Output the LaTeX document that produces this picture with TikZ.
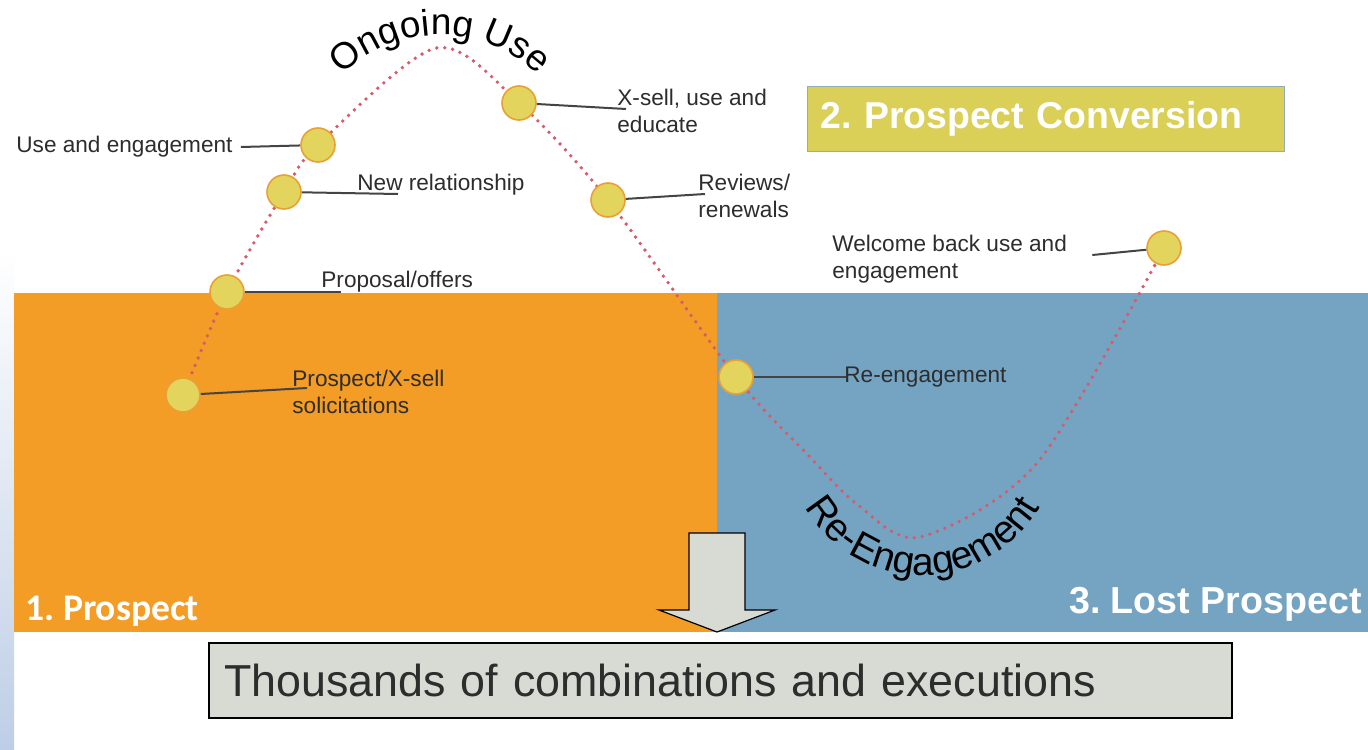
\documentclass[tikz,border=0pt]{standalone}
\usepackage{fontspec}
\setmainfont{Liberation Sans}
\newfontfamily\calibrifont{Carlito}
\usepackage{tikz}
\usetikzlibrary{positioning, decorations.text, calc}
\definecolor{prospectcolor}{RGB}{243,156,38}
\definecolor{lostcolor}{RGB}{117,164,195}
\definecolor{conversioncolor}{RGB}{218,208,88}
\definecolor{dotfill}{RGB}{226,212,92}
\definecolor{dotborder}{RGB}{234,160,52}
\definecolor{trailcolor}{RGB}{214,92,108}
\definecolor{leadercolor}{RGB}{68,68,68}
\definecolor{textgrey}{RGB}{45,45,45}
\definecolor{boxgrey}{RGB}{216,219,211}
\definecolor{stripblue}{RGB}{190,206,230}
\frenchspacing

\begin{document}
\begin{tikzpicture}[
    x=0.5pt, y=-0.5pt,
    region/.style={draw=none, inner sep=0pt, outer sep=0pt, minimum height=169.5pt, anchor=north west},
    phase/.style={text=white, inner sep=0pt},
    convbox/.style={draw={rgb,255:red,150;green,172;blue,180}, fill=conversioncolor, text=white, minimum width=238.5pt, minimum height=32.5pt, text width=225.5pt, inner xsep=6.5pt, align=left, font=\fontsize{18.7}{21}\selectfont\bfseries},
    resultbox/.style={draw=black, line width=1.2pt, fill=boxgrey, text=textgrey, minimum width=511.5pt, minimum height=37.5pt, text width=496.5pt, inner xsep=7.5pt, align=left, font=\fontsize{22.4}{25}\selectfont},
    stop/.style={circle, draw=dotborder, fill=dotfill, line width=0.8pt, minimum size=17pt, inner sep=0pt},
    stagetext/.style={text=textgrey, inner sep=0pt, align=left, font=\fontsize{11.3}{13.5}\selectfont},
    leader/.style={draw=leadercolor, line width=1pt},
    trail/.style={draw=trailcolor, line width=1.9pt, line cap=round, dash pattern=on 0pt off 4pt},
    downarrow/.style={draw=black, line width=0.6pt, fill=boxgrey}
]
    \useasboundingbox (0,0) rectangle (1368,749);
    \fill[white] (0,0) rectangle (1368,749);
    \shade[top color=white, bottom color=stripblue] (0,250) rectangle (14,749);

    % Stops along the journey
    \coordinate (d1) at (183,395);
    \coordinate (d2) at (227,292);
    \coordinate (d3) at (284,192);
    \coordinate (d4) at (318,145);
    \coordinate (peak) at (436,48);
    \coordinate (d5) at (519,103);
    \coordinate (d6) at (608,200);
    \coordinate (d7) at (736,377);
    \coordinate (dip) at (920,537);
    \coordinate (d8) at (1164,248);

    % Regions
    \node[region, fill=prospectcolor, minimum width=351.5pt] (prospect) at (14,293) {};
    \node[region, fill=lostcolor, minimum width=325.5pt, right=0pt of prospect] (lost) {};
    \node[phase, anchor=base west, font=\calibrifont\fontsize{18.8}{20}\selectfont\bfseries] at ([shift={(11,-12)}]prospect.south west) {1. Prospect};
    \node[phase, anchor=base east, font=\fontsize{18.8}{21}\selectfont\bfseries] at ([shift={(-6,-19)}]lost.south east) {3. Lost Prospect};
    \node[convbox, anchor=north west] (conv) at (807,86) {2. Prospect Conversion};

    % Dotted path
    \draw[trail] plot[smooth, tension=0.5] coordinates {(d1) (d2) (d3) (d4) (peak) (d5) (d6) (d7) (808,455) (858,505) (dip) (1037,463) (d8)};

    % Curved titles
    \path[decorate, decoration={text along path, text align=center, text={|\fontsize{18.5}{18.5}\selectfont|Ongoing Use}}]
        (318.8,105) arc[start angle=150, end angle=30, radius=70pt];
    \path[decorate, decoration={text along path, text align=center, text={|\fontsize{19.5}{19.5}\selectfont|Re-Engagement}}]
        (788,451.8) arc[start angle=185, end angle=355, radius=67.5pt];

    % Result
    \draw[downarrow] (689,533) -- (745,533) -- (745,610) -- (775,610) -- (717,632) -- (659,610) -- (689,610) -- cycle;
    \node[resultbox, anchor=north west] (result) at (208,642) {Thousands of combinations and executions};

    % Stop markers
    \node[stop] (s1) at (d1) {};
    \node[stop] (s2) at (d2) {};
    \node[stop] (s3) at (d3) {};
    \node[stop] (s4) at (d4) {};
    \node[stop] (s5) at (d5) {};
    \node[stop] (s6) at (d6) {};
    \node[stop] (s7) at (d7) {};
    \node[stop] (s8) at (d8) {};

    % Stage labels
    \node[stagetext, anchor=north west] (l1) at (292,370) {Prospect/X-sell\\solicitations};
    \node[stagetext, anchor=north west] (l2) at (321,271) {Proposal/offers};
    \node[stagetext, anchor=north west] (l3) at (357,174) {New relationship};
    \node[stagetext, anchor=west] (l4) at (16,147) {Use and engagement};
    \node[stagetext, anchor=north west] (l5) at (617,89) {X-sell, use and\\educate};
    \node[stagetext, anchor=north west] (l6) at (698,174) {Reviews/\\renewals};
    \node[stagetext, anchor=north west] (l7) at (844,367) {Re-engagement};
    \node[stagetext, anchor=north west] (l8) at (832,235) {Welcome back use and\\engagement};

    % Leaders
    \draw[leader] (s1) -- ([shift={(15,18)}]l1.north west);
    \draw[leader] (s2) -- ([shift={(20,21)}]l2.north west);
    \draw[leader] (s3) -- ([shift={(41,20)}]l3.north west);
    \draw[leader] (s4) -- ([xshift=4pt]l4.east);
    \draw[leader] (s5) -- ([shift={(9,20)}]l5.north west);
    \draw[leader] (s6) -- ([shift={(7,20)}]l6.north west);
    \draw[leader] (s7) -- ([shift={(2,10)}]l7.north west);
    \draw[leader] (s8) -- ([shift={(25,20)}]l8.north east);
\end{tikzpicture}
\end{document}
